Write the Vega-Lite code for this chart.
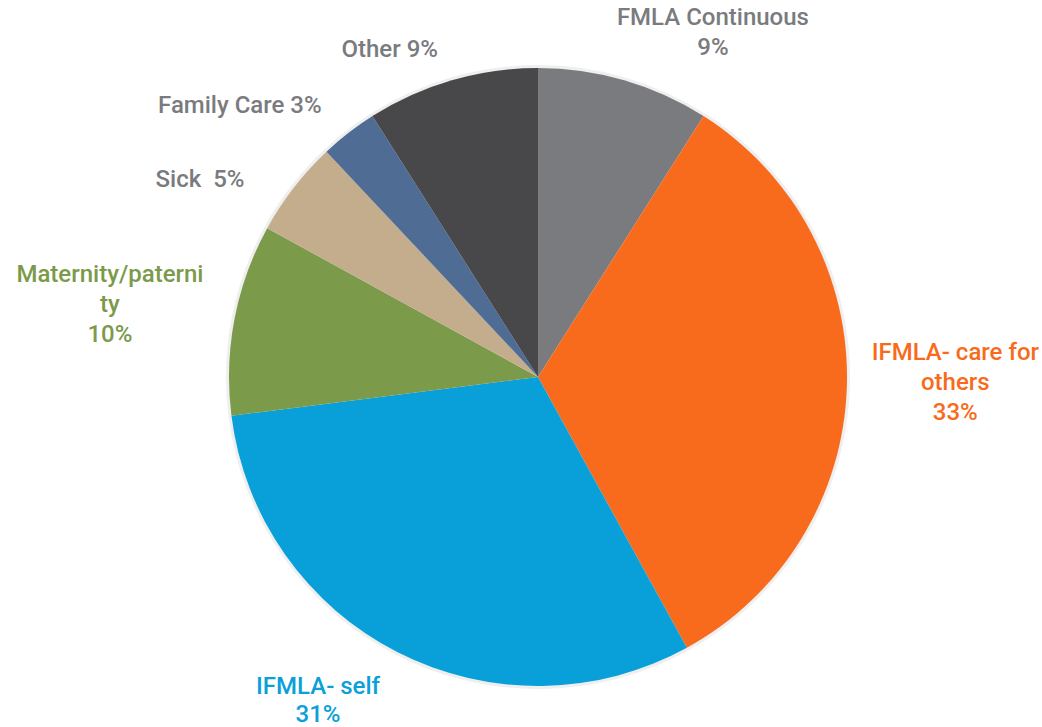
{
  "$schema": "https://vega.github.io/schema/vega-lite/v6.json",
  "width": 1000,
  "height": 700,
  "padding": {"left": 38, "top": 27, "right": 4, "bottom": 0},
  "autosize": {"type": "none"},
  "background": "white",
  "config": {"view": {"stroke": null}},
  "data": {
    "values": [
      {"order": 1, "label": "FMLA Continuous", "value": 9, "text": "FMLA Continuous\n9%"},
      {"order": 2, "label": "IFMLA- care for others", "value": 33, "text": "IFMLA- care for\nothers\n33%"},
      {"order": 3, "label": "IFMLA- self", "value": 31, "text": "IFMLA- self\n31%"},
      {"order": 4, "label": "Maternity/paternity", "value": 10, "text": "Maternity/paterni\nty\n10%"},
      {"order": 5, "label": "Sick", "value": 5, "text": "Sick\u00a0 5%"},
      {"order": 6, "label": "Family Care", "value": 3, "text": "Family Care 3%"},
      {"order": 7, "label": "Other", "value": 9, "text": "Other 9%"}
    ]
  },
  "encoding": {
    "theta": {"field": "value", "type": "quantitative", "stack": true},
    "order": {"field": "order", "type": "quantitative"}
  },
  "layer": [
    {
      "mark": {"type": "arc", "radius": 312, "color": "#e4e4e4", "opacity": 0.6}
    },
    {
      "mark": {"type": "arc", "radius": 309},
      "encoding": {
        "color": {
          "field": "label",
          "type": "nominal",
          "legend": null,
          "scale": {
            "domain": ["FMLA Continuous", "IFMLA- care for others", "IFMLA- self", "Maternity/paternity", "Sick", "Family Care", "Other"],
            "range": ["#7a7b7f", "#f96b1c", "#09a0da", "#7b9a4a", "#c4ad8d", "#4e6c94", "#48484a"]
          }
        }
      }
    },
    {
      "mark": {"type": "text", "radius": 399, "thetaOffset": 0.171, "font": "Roboto", "fontSize": 24, "fontWeight": 500, "lineBreak": "\n", "lineHeight": 30, "align": "center", "baseline": "middle", "color": "#7a7b7e"},
      "encoding": {"text": {"condition": {"test": "datum.label === 'FMLA Continuous'", "field": "text"}, "value": ""}}
    },
    {
      "mark": {"type": "text", "radius": 418, "thetaOffset": -0.089, "font": "Roboto", "fontSize": 24, "fontWeight": 500, "lineBreak": "\n", "lineHeight": 30, "align": "center", "baseline": "middle", "color": "#f86b1c"},
      "encoding": {"text": {"condition": {"test": "datum.label === 'IFMLA- care for others'", "field": "text"}, "value": ""}}
    },
    {
      "mark": {"type": "text", "radius": 380, "thetaOffset": 0.146, "font": "Roboto", "fontSize": 24, "fontWeight": 500, "lineBreak": "\n", "lineHeight": 28, "align": "center", "baseline": "middle", "color": "#0aa0da"},
      "encoding": {"text": {"condition": {"test": "datum.label === 'IFMLA- self'", "field": "text"}, "value": ""}}
    },
    {
      "mark": {"type": "text", "radius": 440, "thetaOffset": 0.045, "font": "Roboto", "fontSize": 24, "fontWeight": 500, "lineBreak": "\n", "lineHeight": 30, "align": "center", "baseline": "middle", "color": "#7b9a4a"},
      "encoding": {"text": {"condition": {"test": "datum.label === 'Maternity/paternity'", "field": "text"}, "value": ""}}
    },
    {
      "mark": {"type": "text", "radius": 391, "thetaOffset": -0.133, "font": "Roboto", "fontSize": 24, "fontWeight": 500, "lineBreak": "\n", "lineHeight": 30, "align": "center", "baseline": "middle", "color": "#7a7b7e"},
      "encoding": {"text": {"condition": {"test": "datum.label === 'Sick'", "field": "text"}, "value": ""}}
    },
    {
      "mark": {"type": "text", "radius": 403, "thetaOffset": -0.173, "font": "Roboto", "fontSize": 24, "fontWeight": 500, "lineBreak": "\n", "lineHeight": 30, "align": "center", "baseline": "middle", "color": "#7a7b7e"},
      "encoding": {"text": {"condition": {"test": "datum.label === 'Family Care'", "field": "text"}, "value": ""}}
    },
    {
      "mark": {"type": "text", "radius": 359, "thetaOffset": -0.143, "font": "Roboto", "fontSize": 24, "fontWeight": 500, "lineBreak": "\n", "lineHeight": 30, "align": "center", "baseline": "middle", "color": "#7a7b7e"},
      "encoding": {"text": {"condition": {"test": "datum.label === 'Other'", "field": "text"}, "value": ""}}
    }
  ]
}
